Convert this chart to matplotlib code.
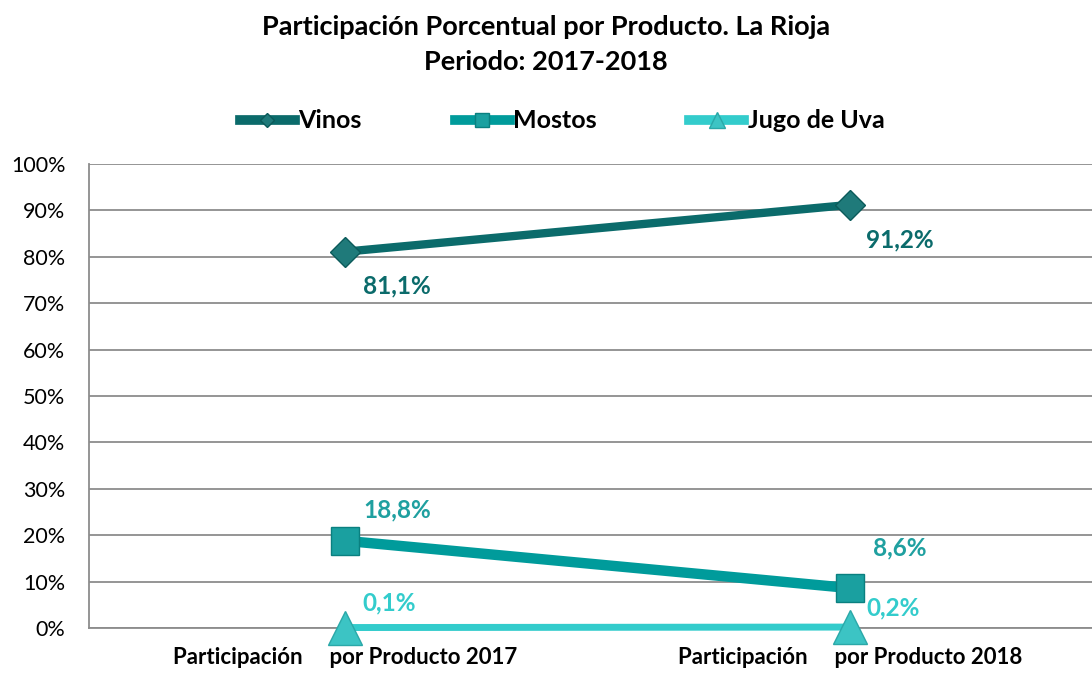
import numpy as np
import matplotlib.pyplot as plt

# datos
categorias = ['Participación     por Producto 2017', 'Participación     por Producto 2018']
vinos = [81.1, 91.2]
mostos = [18.8, 8.6]
jugo = [0.1, 0.2]
etiquetas_vinos = ['81,1%', '91,2%']
etiquetas_mostos = ['18,8%', '8,6%']
etiquetas_jugo = ['0,1%', '0,2%']

plt.rcParams['font.family'] = ['Lato', 'DejaVu Sans']

c_vinos = '#0b6b6b'
c_mostos = '#009b9b'
c_jugo = '#33cccc'

fig = plt.figure(figsize=(10.92, 6.73), dpi=100)
ax = fig.add_axes([89 / 1092, 1 - 628 / 673, 1 - 89 / 1092, (628 - 164) / 673])

x = np.arange(len(categorias))

ax.plot(x, vinos, color=c_vinos, lw=6, marker='D', ms=15, mfc='#1f7a7a',
        mec='#0b5a5a', label='Vinos', zorder=3, clip_on=False)
ax.plot(x, mostos, color=c_mostos, lw=7.5, marker='s', ms=20, mfc='#1aa0a0',
        mec='#0a8080', label='Mostos', zorder=3, clip_on=False)
ax.plot(x, jugo, color=c_jugo, lw=5, marker='^', ms=24, mfc='#3cc4c4',
        mec='#2aa8a8', label='Jugo de Uva', zorder=3, clip_on=False)

# etiquetas de datos
off_vinos = [(37, -25), (36, -25)]
off_mostos = [(37.5, 22), (36, 29)]
off_jugo = [(32, 17.5), (31, 14)]
for i in range(len(x)):
    ax.annotate(etiquetas_vinos[i], (x[i], vinos[i]), xytext=off_vinos[i],
                textcoords='offset points', ha='center', va='center',
                color=c_vinos, fontsize=17.5, fontweight='bold')
    ax.annotate(etiquetas_mostos[i], (x[i], mostos[i]), xytext=off_mostos[i],
                textcoords='offset points', ha='center', va='center',
                color='#1fa0a0', fontsize=17.5, fontweight='bold')
    ax.annotate(etiquetas_jugo[i], (x[i], jugo[i]), xytext=off_jugo[i],
                textcoords='offset points', ha='center', va='center',
                color=c_jugo, fontsize=17.5, fontweight='bold')

ax.set_xlim(-0.507, 1.479)
ax.set_ylim(0, 100)
ax.set_yticks(np.arange(0, 101, 10))
ax.set_yticklabels([f'{v}%' for v in range(0, 101, 10)], fontsize=15.5)
ax.set_xticks(x)
ax.set_xticklabels(categorias, fontsize=16, fontweight='bold')
ax.tick_params(length=0)
ax.tick_params(axis='y', pad=17)
ax.tick_params(axis='x', pad=14)

ax.grid(axis='y', color='#8c8c8c', lw=1.3)
ax.set_axisbelow(True)
for s in ['top', 'right']:
    ax.spines[s].set_visible(False)
ax.spines['left'].set_color('#8c8c8c')
ax.spines['left'].set_linewidth(1.3)
ax.spines['bottom'].set_color('#8c8c8c')
ax.spines['bottom'].set_linewidth(1.3)

fig.text(0.5, 1 - 27 / 673, 'Participación Porcentual por Producto. La Rioja',
         ha='center', va='center', fontsize=19.5, fontweight='bold')
fig.text(0.5, 1 - 62 / 673, 'Periodo: 2017-2018',
         ha='center', va='center', fontsize=19.5, fontweight='bold')

leg = fig.legend(loc='center', bbox_to_anchor=(0.515, 1 - 121 / 673), ncol=3,
                 frameon=False, fontsize=18, handlelength=2.2, columnspacing=3.7,
                 handletextpad=0.15, markerscale=0.5)
for t in leg.get_texts():
    t.set_fontweight('bold')
for h in leg.legend_handles:
    h.set_linewidth(7)

fig.savefig('out.png', dpi=100)
